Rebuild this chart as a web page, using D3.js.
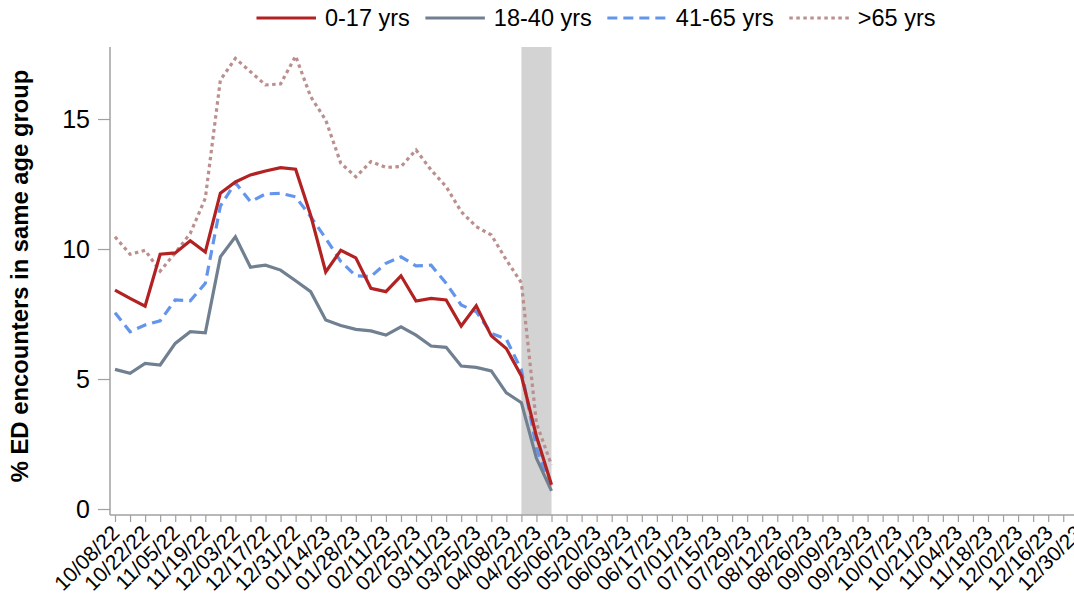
<!DOCTYPE html>
<html>
<head>
<meta charset="utf-8">
<script src="https://cdn.jsdelivr.net/npm/d3@7"></script>
<style>
  html, body { margin: 0; padding: 0; background: #fff; overflow: hidden; }
  svg { display: block; font-family: "Liberation Sans", Arial, Helvetica, sans-serif; }
</style>
</head>
<body>
<svg id="chart" width="1074" height="599"></svg>
<script>
// ---- Data ----
const firstWeek = "10/08/22";
const lastWeek = "12/30/23";
const tickLabels = ["10/08/22","10/22/22","11/05/22","11/19/22","12/03/22","12/17/22","12/31/22",
  "01/14/23","01/28/23","02/11/23","02/25/23","03/11/23","03/25/23","04/08/23","04/22/23",
  "05/06/23","05/20/23","06/03/23","06/17/23","07/01/23","07/15/23","07/29/23","08/12/23",
  "08/26/23","09/09/23","09/23/23","10/07/23","10/21/23","11/04/23","11/18/23","12/02/23",
  "12/16/23","12/30/23"];
const bandStart = "04/15/23";
const bandEnd = "04/29/23";
const seriesNames = ["0-17 yrs","18-40 yrs","41-65 yrs",">65 yrs"];
const age0_17  = [8.42,8.10,7.80,9.80,9.85,10.32,9.88,12.15,12.58,12.85,13.00,13.13,13.07,11.30,9.12,9.95,9.66,8.49,8.36,8.97,8.00,8.10,8.04,7.04,7.82,6.66,6.17,5.12,2.80,0.93];
const age18_40 = [5.37,5.22,5.60,5.54,6.37,6.82,6.78,9.70,10.47,9.30,9.38,9.19,8.78,8.36,7.27,7.06,6.91,6.85,6.69,7.01,6.69,6.27,6.22,5.50,5.45,5.31,4.47,4.09,1.95,0.70];
const age41_65 = [7.55,6.82,7.08,7.24,8.04,8.01,8.68,11.65,12.55,11.82,12.12,12.14,12.01,11.24,10.41,9.52,8.97,8.94,9.45,9.70,9.35,9.38,8.68,7.85,7.59,6.76,6.53,5.35,2.35,0.72];
const age65plus= [10.47,9.80,9.95,9.15,9.85,10.60,11.95,16.50,17.33,16.82,16.31,16.35,17.42,15.86,14.96,13.30,12.78,13.36,13.14,13.17,13.81,13.04,12.40,11.44,10.86,10.54,9.58,8.70,3.30,1.69];
const yTicks = [0,5,10,15];
const yTitle = "% ED encounters in same age group";

// ---- Setup ----
const parse = d3.utcParse("%m/%d/%y");
const fmt = d3.utcFormat("%m/%d/%y");
const t0 = parse(firstWeek), t1 = parse(lastWeek);
const weeks = d3.utcSaturday.range(t0, d3.utcDay.offset(t1, 1));
const dataDates = weeks.slice(0, age0_17.length);

const svg = d3.select("#chart");
const plotLeft = 110, plotTop = 47, plotBottom = 515;
const x = d3.scaleUtc().domain([t0, t1]).range([115, 1078.3]);
const y = d3.scaleLinear().domain([-0.23, 17.77]).range([plotBottom, plotTop]);

const styles = [
  {color: "#b22222", dash: null, values: age0_17},
  {color: "#708090", dash: null, values: age18_40},
  {color: "#6495ed", dash: "10,6", values: age41_65},
  {color: "#bc8f8f", dash: "3.5,3.5", values: age65plus}
];

// band
svg.append("rect")
  .attr("x", x(parse(bandStart)))
  .attr("y", plotTop)
  .attr("width", x(parse(bandEnd)) - x(parse(bandStart)))
  .attr("height", plotBottom - plotTop)
  .attr("fill", "#d3d3d3");

// y axis
const yAxis = svg.append("g").attr("transform", `translate(${plotLeft},0)`)
  .call(d3.axisLeft(y).tickValues(yTicks).tickSize(12).tickPadding(8).tickSizeOuter(0));
yAxis.select(".domain").attr("stroke", "#a0a0a0").attr("stroke-width", 1.5)
  .attr("d", `M0,${plotTop}V${plotBottom}`);
yAxis.selectAll(".tick line").attr("stroke", "#a0a0a0").attr("stroke-width", 1.2);
yAxis.selectAll(".tick text").attr("font-size", 25).attr("fill", "#000");

// x axis
const xAxis = svg.append("g").attr("transform", `translate(0,${plotBottom})`)
  .call(d3.axisBottom(x).tickValues(weeks).tickSize(7).tickSizeOuter(0)
    .tickFormat(d => tickLabels.includes(fmt(d)) ? fmt(d) : ""));
xAxis.select(".domain").attr("stroke", "#a0a0a0").attr("stroke-width", 1.5)
  .attr("d", `M${plotLeft},0H1100`);
xAxis.selectAll(".tick line").attr("stroke", "#a0a0a0").attr("stroke-width", 1.2);
xAxis.selectAll(".tick text")
  .attr("font-size", 21).attr("fill", "#000")
  .attr("text-anchor", "end")
  .attr("y", 0)
  .attr("dy", "0.35em")
  .attr("transform", "translate(0,14) rotate(-45)");

// y title
svg.append("text")
  .attr("transform", `translate(28,276) rotate(-90)`)
  .attr("text-anchor", "middle")
  .attr("font-size", 23.8).attr("font-weight", "bold").attr("fill", "#000")
  .text(yTitle);

// lines
const line = d3.line().x((d, i) => x(dataDates[i])).y(d => y(d));
styles.slice().reverse().forEach(s => {
  svg.append("path").datum(s.values)
    .attr("d", line)
    .attr("fill", "none")
    .attr("stroke", s.color)
    .attr("stroke-width", 3.2)
    .attr("stroke-dasharray", s.dash)
    .attr("stroke-linejoin", "miter");
});

// legend
const legend = svg.append("g");
let cx = 0;
seriesNames.forEach((name, i) => {
  const g = legend.append("g");
  g.append("line").attr("x1", 0).attr("x2", 59.5).attr("y1", 0).attr("y2", 0)
    .attr("stroke", styles[i].color).attr("stroke-width", 3.2)
    .attr("stroke-dasharray", styles[i].dash);
  const t = g.append("text").attr("x", 68.5).attr("dy", "0.35em")
    .attr("font-size", 23.5).attr("fill", "#000").text(name);
  const w = 68.5 + t.node().getComputedTextLength();
  g.attr("transform", `translate(${cx},0)`);
  cx += w + 15.5;
});
const total = cx - 15.5;
legend.attr("transform", `translate(${596 - total / 2},18)`);
</script>
</body>
</html>
